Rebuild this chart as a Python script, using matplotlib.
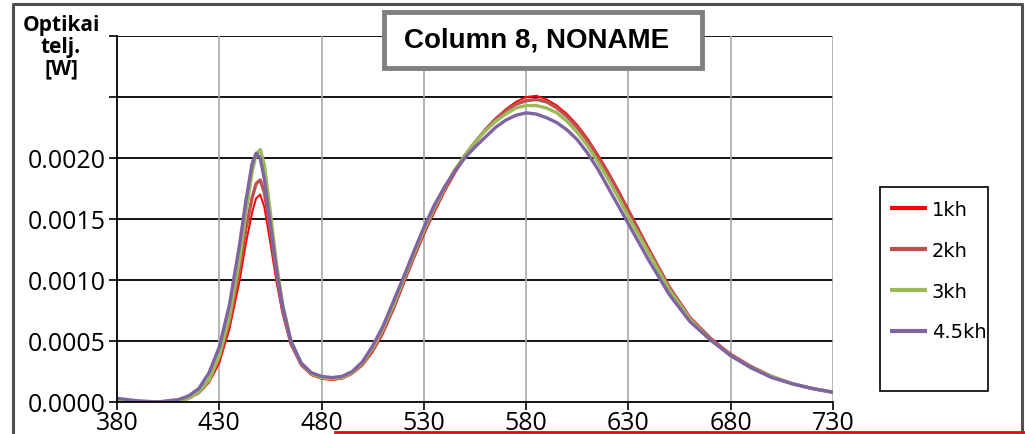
import matplotlib
matplotlib.use("Agg")
import matplotlib.pyplot as plt
from matplotlib.lines import Line2D
from matplotlib.patches import Rectangle

# wavelength grid (nm) and optical power (W)
wl = [380, 390, 400, 410, 415, 420, 425, 430, 435, 440, 443, 446, 448, 450,
      452, 455, 458, 461, 465, 470, 475, 480, 485, 490, 495, 500, 505, 510,
      515, 520, 525, 530, 535, 540, 545, 550, 555, 560, 565, 570, 575, 580,
      585, 590, 595, 600, 605, 610, 615, 620, 625, 630, 635, 640, 650, 660,
      670, 680, 690, 700, 710, 720, 730]

p_1kh = [0.00002, 0.00000, 0.00000, 0.00001, 0.00003, 0.00007, 0.00016, 0.00032,
         0.00060, 0.00100, 0.00130, 0.00155, 0.00167, 0.00170, 0.00160, 0.00130,
         0.00098, 0.00072, 0.00047, 0.00030, 0.00022, 0.00019, 0.00018, 0.00019,
         0.00023, 0.00030, 0.00041, 0.00056, 0.00075, 0.00096, 0.00117, 0.00137,
         0.00155, 0.00172, 0.00187, 0.00200, 0.00212, 0.00223, 0.00232, 0.00240,
         0.00246, 0.00250, 0.00251, 0.00248, 0.00243, 0.00236, 0.00227, 0.00216,
         0.00203, 0.00189, 0.00174, 0.00158, 0.00142, 0.00126, 0.00095, 0.00070,
         0.00053, 0.00039, 0.00029, 0.00021, 0.00015, 0.00011, 0.00008]

p_2kh = [0.00002, 0.00000, 0.00000, 0.00001, 0.00003, 0.00008, 0.00018, 0.00036,
         0.00066, 0.00110, 0.00142, 0.00167, 0.00179, 0.00182, 0.00172, 0.00140,
         0.00104, 0.00075, 0.00048, 0.00031, 0.00023, 0.00020, 0.00019, 0.00020,
         0.00024, 0.00031, 0.00043, 0.00058, 0.00077, 0.00098, 0.00119, 0.00139,
         0.00157, 0.00174, 0.00189, 0.00202, 0.00213, 0.00223, 0.00232, 0.00239,
         0.00244, 0.00247, 0.00248, 0.00246, 0.00241, 0.00234, 0.00225, 0.00214,
         0.00201, 0.00187, 0.00172, 0.00156, 0.00140, 0.00124, 0.00094, 0.00069,
         0.00052, 0.00039, 0.00029, 0.00021, 0.00015, 0.00011, 0.00008]

p_3kh = [0.00002, 0.00000, 0.00000, 0.00001, 0.00003, 0.00008, 0.00018, 0.00038,
         0.00070, 0.00118, 0.00155, 0.00188, 0.00203, 0.00207, 0.00195, 0.00155,
         0.00113, 0.00080, 0.00050, 0.00032, 0.00023, 0.00020, 0.00019, 0.00020,
         0.00024, 0.00032, 0.00044, 0.00060, 0.00079, 0.00100, 0.00121, 0.00141,
         0.00159, 0.00175, 0.00190, 0.00202, 0.00213, 0.00222, 0.00230, 0.00236,
         0.00241, 0.00243, 0.00243, 0.00241, 0.00237, 0.00230, 0.00221, 0.00210,
         0.00197, 0.00183, 0.00168, 0.00152, 0.00137, 0.00122, 0.00092, 0.00068,
         0.00051, 0.00038, 0.00028, 0.00021, 0.00015, 0.00011, 0.00008]

p_45kh = [0.00003, 0.00001, 0.00000, 0.00002, 0.00005, 0.00011, 0.00024, 0.00045,
          0.00080, 0.00130, 0.00165, 0.00195, 0.00204, 0.00200, 0.00183, 0.00145,
          0.00108, 0.00078, 0.00050, 0.00032, 0.00024, 0.00021, 0.00020, 0.00021,
          0.00025, 0.00033, 0.00046, 0.00062, 0.00082, 0.00102, 0.00123, 0.00143,
          0.00161, 0.00176, 0.00189, 0.00200, 0.00209, 0.00217, 0.00225, 0.00231,
          0.00235, 0.00237, 0.00236, 0.00233, 0.00229, 0.00223, 0.00215, 0.00204,
          0.00191, 0.00176, 0.00161, 0.00146, 0.00131, 0.00116, 0.00088, 0.00066,
          0.00051, 0.00038, 0.00028, 0.00020, 0.00015, 0.00011, 0.00008]

labels = ["1kh", "2kh", "3kh", "4.5kh"]
colors = ["#FF0000", "#C0504D", "#9BBB59", "#8064A2"]
widths = [1.4, 2.4, 2.4, 2.4]

x_ticks = [380, 430, 480, 530, 580, 630, 680, 730]
y_ticks = [0.0, 0.0005, 0.0010, 0.0015, 0.0020, 0.0025, 0.0030]
y_ticklabels = ["0.0000", "0.0005", "0.0010", "0.0015", "0.0020", "", ""]

W, H = 1025, 435
fig = plt.figure(figsize=(W / 100, H / 100), dpi=100)
ax = fig.add_axes([117 / W, (H - 403) / H, 716 / W, 366 / H])

series = [p_1kh, p_2kh, p_3kh, p_45kh]
for vals, lab, col, lw in zip(series, labels, colors, widths):
    ax.plot(wl, vals, color=col, lw=lw, label=lab, solid_capstyle="butt")

ax.set_xlim(380, 730)
ax.set_ylim(0, 0.003)
ax.set_xticks(x_ticks)
ax.set_yticks(y_ticks)
ax.set_yticklabels(y_ticklabels)
ax.tick_params(axis="both", direction="out", length=6, width=1.2, labelsize=18)
ax.tick_params(axis="x", pad=0)
ax.tick_params(axis="y", pad=2)
for lab in ax.get_xticklabels() + ax.get_yticklabels():
    lab.set_family("Open Sans")

# gridlines: black horizontal, grey vertical
for y in y_ticks[1:]:
    ax.axhline(y, color="black", lw=1.3, zorder=0)
for x in x_ticks[1:]:
    ax.axvline(x, color="#A8A8A8", lw=1.2, zorder=0)
for s in ["top", "right"]:
    ax.spines[s].set_visible(False)
ax.spines["left"].set_linewidth(1.3)
ax.spines["bottom"].set_linewidth(1.3)

# legend box drawn by hand, entries placed inside
ax.add_patch(Rectangle((880 / W, 1 - 392 / H), 108 / W, 204 / H,
                       transform=fig.transFigure, facecolor="white",
                       edgecolor="black", lw=1.2, zorder=4, clip_on=False))
leg = ax.legend(loc="upper left", bbox_to_anchor=(890 / W, 1 - 201 / H),
                bbox_transform=fig.transFigure, frameon=False,
                prop={"family": "DejaVu Sans", "size": 14}, handlelength=1.9,
                handletextpad=0.25, labelspacing=1.12, borderpad=0,
                borderaxespad=0)
leg.set_zorder(6)
for h in leg.get_lines():
    h.set_linewidth(3)

# title box
fig.add_artist(Rectangle((384 / W, 1 - 69 / H), 318 / W, 56 / H,
                         transform=fig.transFigure, facecolor="white",
                         edgecolor="#808080", lw=3.5, zorder=5))
fig.text(537 / W, 1 - 41 / H, "Column 8, NONAME", ha="center", va="center",
         fontsize=20, fontweight="bold", family="Liberation Sans", zorder=6)

# y axis title
fig.text(61 / W, 1 - 47 / H, "Optikai\ntelj.\n[W]", ha="center", va="center",
         fontsize=15, fontweight="bold", family="Open Sans", linespacing=1.05)

# outer chart border and stray red line
fig.add_artist(Line2D([13 / W, 13 / W, 1022 / W, 1022 / W],
                      [0, 1 - 5 / H, 1 - 5 / H, 0], transform=fig.transFigure,
                      color="#505050", lw=2.2))
fig.add_artist(Line2D([335 / W, 1.0], [2 / H, 2 / H], transform=fig.transFigure,
                      color="#FF0000", lw=2))

fig.savefig("out.png", dpi=100)
